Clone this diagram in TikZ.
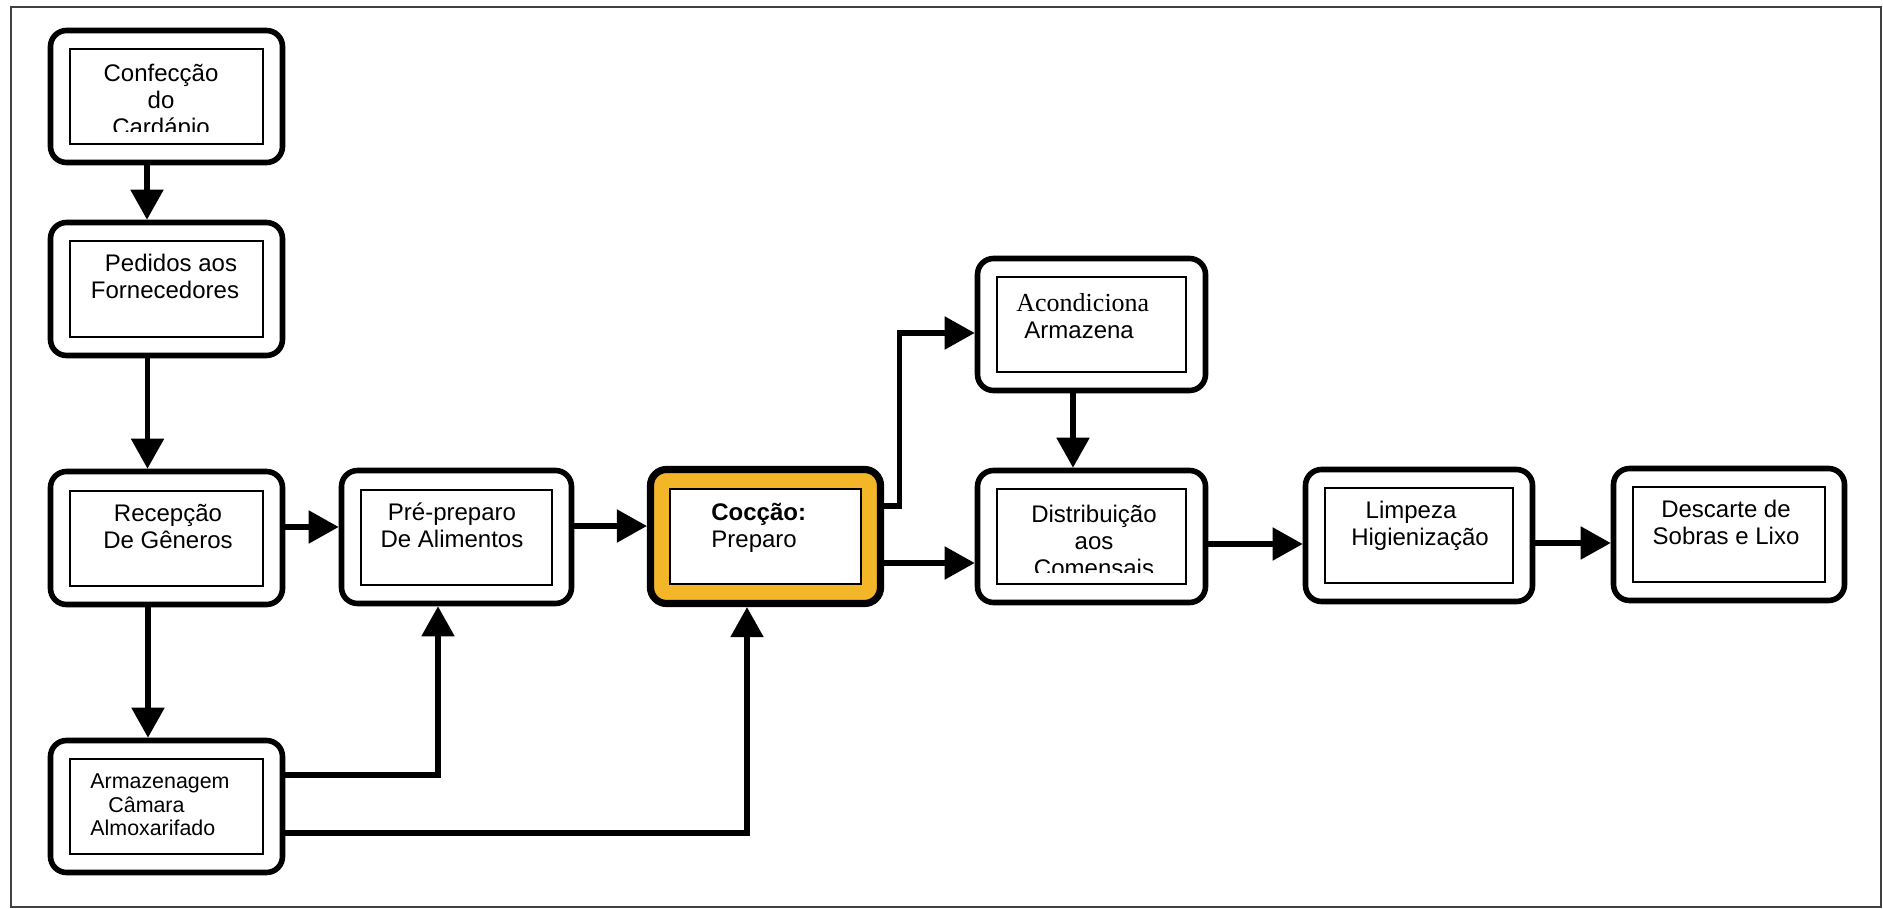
\documentclass[tikz,border=0pt]{standalone}
\usepackage{fontspec}
\setmainfont{Liberation Sans}
\newfontfamily\serifface{Liberation Serif}
\usetikzlibrary{arrows.meta}
\definecolor{coccao}{RGB}{242,182,40}

% outer rounded frame + inner plain rectangle of a process step
\newcommand\procbox[5][]{%
  \node[outerbox,minimum width=#4,minimum height=#5,#1] (#2) at (#3) {};
  \node[innerbox,minimum width=#4-19.5pt,minimum height=47.5pt] (#2-in) at (#3) {};}

\begin{document}
\begin{tikzpicture}[x=0.5pt,y=-0.5pt,
  outerbox/.style={draw=black,line width=2.8pt,rounded corners=8pt,fill=white,inner sep=0pt},
  innerbox/.style={draw=black,line width=1pt,fill=white,inner sep=0pt},
  % anchor=base of a multi-line label sits on its last line
  steptext/.style={font=\fontsize{12pt}{13.5pt}\selectfont,inner sep=0pt,anchor=base,align=center},
  flow/.style={line width=2.6pt,-{Triangle[length=15pt,width=16pt]}},
]
\useasboundingbox (0,0) rectangle (1883,909);
\fill[white] (0,0) rectangle (1883,909);
\draw[line width=1pt,black!75] (11,7) rectangle (1881,907);

% process steps
\procbox{B1}{166.5,96.5}{116pt}{66pt}
\procbox{B2}{166.5,289}{116pt}{66.5pt}
\procbox{B3}{166.5,538}{116pt}{66.5pt}
\procbox{B4}{166.5,806.5}{116pt}{66pt}
\procbox{B5}{456.5,537}{115pt}{66.5pt}
\procbox[line width=3.6pt,fill=coccao]{B6}{765.5,536.5}{115pt}{67pt}
\procbox{B7}{1091.5,324.5}{114pt}{66pt}
\procbox{B8}{1091.5,536.5}{114pt}{66pt}
\procbox{B9}{1419,535.5}{113.5pt}{66pt}
\procbox{B10}{1729,534.5}{115.5pt}{66pt}

% labels (the last line of the first and eighth step is cut by its box)
\begin{scope}
  \clip (B1-in.north west) rectangle ([yshift=6.5pt]B1-in.south east);
  \node[steptext] (t1) at (161,135.5) {Confecção\\do\\Cardápio};
\end{scope}
\node[steptext] (t2) at (165,298.5) {\hspace*{6pt}Pedidos aos\\Fornecedores};
\node[steptext] (t3) at (168,548.5) {Recepção\\De Gêneros};
\node[steptext,align=left,anchor=base west,font=\fontsize{10.7pt}{11.75pt}\selectfont]
  (t4) at (90,835.5) {Armazenagem\\\hspace*{9pt}Câmara\\Almoxarifado};
\node[steptext] (t5) at (452,547.5) {Pré-preparo\\De Alimentos};
\node[steptext,align=left,anchor=base west] (t6) at (711,547.5) {\textbf{Cocção:}\\Preparo};
\node[steptext,anchor=base west,font=\serifface\fontsize{13pt}{15pt}\selectfont]
  (t7a) at (1016,311) {Acondiciona};
\node[steptext,anchor=base west] (t7b) at (1024,338.5) {Armazena};
\begin{scope}
  \clip (B8-in.north west) rectangle ([yshift=6.5pt]B8-in.south east);
  \node[steptext] (t8) at (1094,576) {Distribuição\\aos\hspace*{12pt}\\Comensais};
\end{scope}
\node[steptext] (t9) at (1420,545.5) {Limpeza\hspace*{9pt}\\Higienização};
\node[steptext] (t10) at (1726,544.5) {Descarte de\\Sobras e Lixo};

% connectors
\draw[flow] ([xshift=-9.75pt]B1.south) -- ([xshift=-9.75pt]B2.north);
\draw[flow] ([xshift=-9.5pt]B2.south) -- ([xshift=-9.5pt]B3.north);
\draw[flow] ([xshift=-9.25pt]B3.south) -- ([xshift=-9.25pt]B4.north);

\coordinate (a4) at ([yshift=5.5pt]B3.east);
\draw[flow] (a4) -- (a4 -| B5.west);
\coordinate (a5) at ([yshift=5.5pt]B5.east);
\draw[flow] (a5) -- (a5 -| B6.west);

\coordinate (a6) at ([yshift=15.75pt]B4.east);
\draw[flow] (a6) -| ([xshift=-9.25pt]B5.south);
\coordinate (a7) at ([yshift=-13.25pt]B4.east);
\draw[flow] (a7) -| ([xshift=-9.25pt]B6.south);

\coordinate (a8) at ([yshift=15.25pt]B6.east);
\draw[flow] (a8) -- ++(7.5pt,0pt) |- ([yshift=-4.25pt]B7.west);
\coordinate (a9) at ([yshift=-13.25pt]B6.east);
\draw[flow] (a9) -- (a9 -| B8.west);

\draw[flow] ([xshift=-9.25pt]B7.south) -- ([xshift=-9.25pt]B8.north);

\coordinate (a11) at ([yshift=-3.75pt]B8.east);
\draw[flow] (a11) -- (a11 -| B9.west);
\coordinate (a12) at ([yshift=-3.75pt]B9.east);
\draw[flow] (a12) -- (a12 -| B10.west);
\end{tikzpicture}
\end{document}
